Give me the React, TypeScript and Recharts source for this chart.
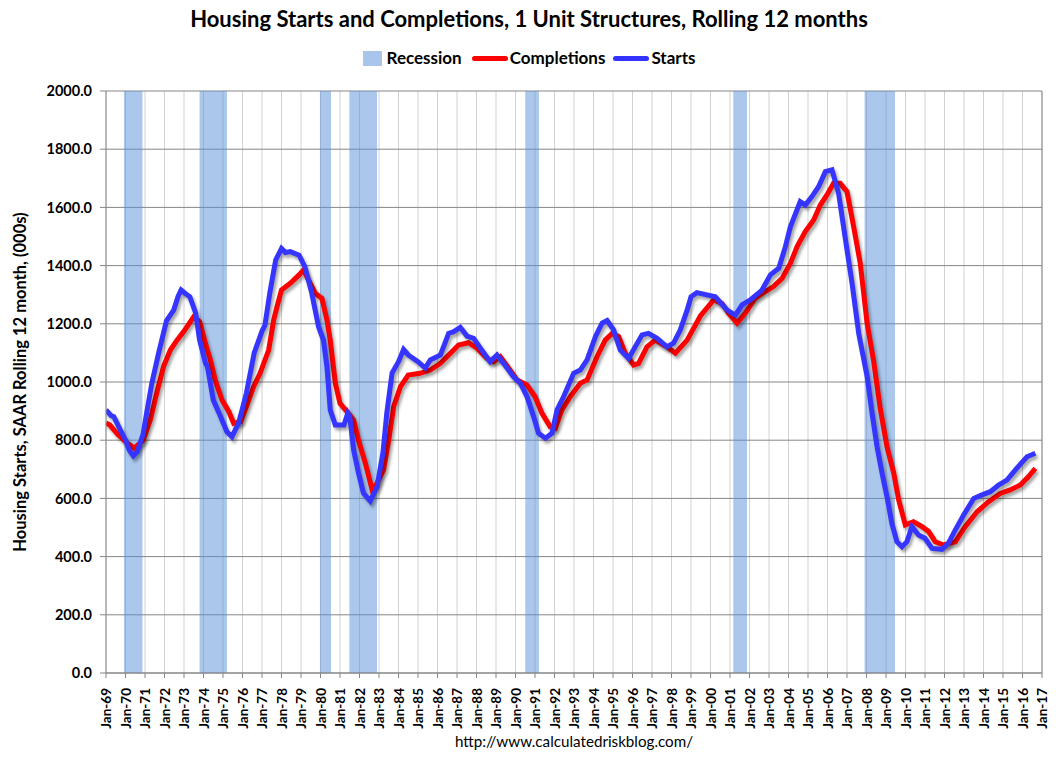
import React from "react";
import {
  CartesianGrid,
  ComposedChart,
  Line,
  ReferenceArea,
  ReferenceLine,
  XAxis,
  YAxis,
} from "recharts";

// decimal years
const startsDates = [
  1969.0, 1969.25, 1969.4, 1969.7, 1970.0, 1970.2, 1970.4, 1970.6, 1970.9, 1971.1,
  1971.35, 1971.7, 1972.1, 1972.47, 1972.7, 1972.85, 1973.05, 1973.3, 1973.6, 1973.8,
  1974.1, 1974.2, 1974.5, 1974.8, 1975.2, 1975.46, 1975.8, 1976.2, 1976.6, 1977.0,
  1977.15, 1977.4, 1977.7, 1978.0, 1978.2, 1978.45, 1978.9, 1979.2, 1979.55, 1979.9,
  1980.15, 1980.33, 1980.5, 1980.76, 1981.2, 1981.4, 1981.5, 1981.7, 1981.95, 1982.2,
  1982.55, 1982.9, 1983.2, 1983.4, 1983.67, 1984.0, 1984.26, 1984.5, 1985.0, 1985.37,
  1985.63, 1986.15, 1986.57, 1986.83, 1987.17, 1987.51, 1987.85, 1988.2, 1988.7, 1989.05,
  1989.39, 1989.9, 1990.25, 1990.59, 1990.93, 1991.18, 1991.53, 1991.87, 1992.13, 1992.47,
  1992.98, 1993.32, 1993.67, 1994.1, 1994.44, 1994.7, 1995.03, 1995.37, 1995.8, 1996.14,
  1996.49, 1996.82, 1997.26, 1997.77, 1998.1, 1998.45, 1998.8, 1999.0, 1999.3, 2000.25,
  2000.85, 2001.27, 2001.62, 2002.04, 2002.64, 2003.07, 2003.5, 2003.84, 2004.1, 2004.6,
  2004.86, 2005.2, 2005.54, 2005.89, 2006.23, 2006.57, 2006.9, 2007.26, 2007.6, 2008.03,
  2008.28, 2008.54, 2008.8, 2009.05, 2009.3, 2009.56, 2009.82, 2010.07, 2010.33, 2010.67,
  2011.0, 2011.36, 2011.87, 2012.2, 2012.55, 2012.98, 2013.5, 2013.92, 2014.35, 2014.77,
  2015.2, 2015.7, 2016.23, 2016.66,
];
const startsValues = [
  904, 885, 881, 840, 800, 765, 746, 760, 820, 900,
  996, 1100, 1210, 1247, 1295, 1316, 1305, 1293, 1237, 1144,
  1065, 1053, 938, 893, 829, 812, 859, 962, 1100, 1175,
  1195, 1306, 1419, 1459, 1445, 1448, 1436, 1396, 1306, 1190,
  1144, 1053, 904, 852, 852, 893, 881, 766, 687, 618,
  591, 640, 756, 893, 1031, 1070, 1112, 1093, 1070, 1048,
  1076, 1093, 1167, 1173, 1188, 1158, 1150, 1116, 1070, 1093,
  1064, 1018, 996, 950, 881, 824, 807, 824, 904, 950,
  1030, 1041, 1076, 1156, 1202, 1211, 1179, 1110, 1081, 1121,
  1162, 1167, 1150, 1121, 1133, 1179, 1247, 1293, 1307, 1293,
  1247, 1230, 1265, 1282, 1316, 1368, 1391, 1465, 1534, 1620,
  1608, 1637, 1671, 1723, 1729, 1648, 1499, 1339, 1167, 1020,
  895, 778, 686, 606, 514, 451, 434, 451, 503, 474,
  463, 428, 425, 446, 491, 543, 600, 612, 623, 646,
  663, 703, 743, 755,
];

const completionsDates = [
  1969.0, 1969.2, 1969.6, 1970.0, 1970.45, 1970.9, 1971.27, 1971.6, 1971.95, 1972.3,
  1972.64, 1972.98, 1973.5, 1973.8, 1974.1, 1974.35, 1974.6, 1974.95, 1975.3, 1975.55,
  1975.9, 1976.2, 1976.57, 1976.9, 1977.34, 1977.6, 1977.77, 1978.0, 1978.45, 1978.9,
  1979.13, 1979.47, 1979.73, 1980.07, 1980.33, 1980.5, 1980.76, 1981.0, 1981.36, 1981.7,
  1981.95, 1982.3, 1982.65, 1982.9, 1983.23, 1983.5, 1983.75, 1984.1, 1984.5, 1985.1,
  1985.63, 1986.15, 1986.66, 1987.08, 1987.59, 1988.03, 1988.54, 1988.88, 1989.22, 1989.65,
  1990.08, 1990.59, 1991.0, 1991.36, 1991.78, 1992.04, 1992.38, 1992.81, 1993.32, 1993.67,
  1994.18, 1994.6, 1994.95, 1995.29, 1995.63, 1996.06, 1996.31, 1996.74, 1997.17, 1997.77,
  1998.2, 1998.8, 1999.48, 2000.16, 2000.59, 2000.93, 2001.36, 2001.78, 2002.29, 2002.81,
  2003.23, 2003.67, 2004.1, 2004.44, 2004.86, 2005.29, 2005.63, 2005.97, 2006.31, 2006.65,
  2007.0, 2007.34, 2007.68, 2008.03, 2008.37, 2008.7, 2009.05, 2009.4, 2009.65, 2009.99,
  2010.41, 2010.85, 2011.19, 2011.53, 2011.95, 2012.55, 2013.06, 2013.67, 2014.26, 2014.86,
  2015.37, 2015.89, 2016.31, 2016.66,
];
const completionsValues = [
  859, 852, 820, 795, 773, 800, 869, 962, 1053, 1110,
  1144, 1173, 1224, 1207, 1133, 1076, 1007, 938, 898, 858,
  864, 915, 984, 1030, 1110, 1213, 1259, 1316, 1339, 1368,
  1385, 1339, 1305, 1288, 1213, 1144, 996, 927, 898, 869,
  800, 721, 629, 652, 698, 800, 915, 984, 1024, 1030,
  1041, 1064, 1099, 1127, 1135, 1116, 1081, 1070, 1087, 1047,
  1007, 990, 950, 892, 846, 841, 904, 950, 996, 1007,
  1087, 1144, 1167, 1156, 1099, 1058, 1064, 1121, 1144, 1121,
  1099, 1144, 1227, 1282, 1270, 1236, 1202, 1236, 1288, 1311,
  1328, 1356, 1408, 1465, 1517, 1557, 1608, 1643, 1683, 1683,
  1654, 1534, 1408, 1202, 1070, 910, 778, 686, 595, 509,
  520, 503, 486, 451, 440, 451, 503, 554, 589, 617,
  629, 646, 675, 703,
];

const recessionStarts = [1969.92, 1973.8, 1979.97, 1981.48, 1990.5, 2001.17, 2007.9];
const recessionEnds = [1970.87, 1975.2, 1980.54, 1982.9, 1991.2, 2001.87, 2009.46];

const yearTicks = Array.from({ length: 49 }, (_, i) => 1969 + i);
const valueTicks = [0, 200, 400, 600, 800, 1000, 1200, 1400, 1600, 1800, 2000];

const starts = startsDates.map((t, i) => ({ t, v: startsValues[i] }));
const completions = completionsDates.map((t, i) => ({ t, v: completionsValues[i] }));

const FONT = "Lato, 'Liberation Sans', sans-serif";
const AXIS_GRAY = "#868686";

function YearTick(props: any) {
  const { x, y, payload } = props;
  const yy = String(payload.value % 100).padStart(2, "0");
  return (
    <g transform={`translate(${x},${y})`}>
      <text
        x={-8}
        y={0}
        dy={5}
        textAnchor="end"
        transform="rotate(-90)"
        fontFamily={FONT}
        fontWeight="bold"
        fontSize={13.5}
        fill="#000"
      >
        {`Jan-${yy}`}
      </text>
    </g>
  );
}

function LegendRow() {
  const item = { display: "flex", alignItems: "center" } as const;
  return (
    <div
      style={{
        position: "absolute",
        top: 47,
        left: 0,
        width: 1056,
        display: "flex",
        justifyContent: "center",
        fontFamily: FONT,
        fontWeight: "bold",
        fontSize: 17,
        lineHeight: "22px",
        color: "#000",
        paddingLeft: 2,
        boxSizing: "border-box",
      }}
    >
      <div style={item}>
        <span style={{ width: 19, height: 15, background: "#a9c5eb", marginRight: 5 }} />
        <span>Recession</span>
      </div>
      <div style={{ ...item, marginLeft: 10 }}>
        <span style={{ width: 36, height: 5, borderRadius: 3, background: "#ff0000", marginRight: 2 }} />
        <span>Completions</span>
      </div>
      <div style={{ ...item, marginLeft: 8 }}>
        <span style={{ width: 36, height: 5, borderRadius: 3, background: "#3333ff", marginRight: 2 }} />
        <span>Starts</span>
      </div>
    </div>
  );
}

export default function App() {
  return (
    <div
      style={{
        position: "absolute",
        left: 0,
        top: 0,
        width: 1056,
        height: 765,
        background: "#fff",
        fontFamily: FONT,
      }}
    >
      <style>{`.recharts-line-curve { filter: drop-shadow(2px 3px 1.5px rgba(0,0,0,0.35)); }`}</style>
      <div
        style={{
          position: "absolute",
          top: 5,
          left: 0,
          width: 1056,
          textAlign: "center",
          fontWeight: "bold",
          fontSize: 22,
          lineHeight: "28px",
          color: "#000",
          paddingLeft: 2,
          boxSizing: "border-box",
        }}
      >
        Housing Starts and Completions, 1 Unit Structures, Rolling 12 months
      </div>
      <LegendRow />
      <div
        style={{
          position: "absolute",
          left: 20,
          top: 382,
          transform: "translate(-50%, -50%) rotate(-90deg)",
          whiteSpace: "nowrap",
          fontWeight: "bold",
          fontSize: 16.5,
          color: "#000",
        }}
      >
        Housing Starts, SAAR Rolling 12 month, (000s)
      </div>
      <div
        style={{
          position: "absolute",
          top: 731,
          left: 0,
          width: 1056,
          textAlign: "center",
          fontSize: 15.2,
          lineHeight: "20px",
          color: "#000",
          paddingLeft: 92,
          boxSizing: "border-box",
        }}
      >
        http://www.calculatedriskblog.com/
      </div>
      <ComposedChart
        width={1056}
        height={765}
        margin={{ top: 91, right: 14, bottom: 0, left: 0 }}
        style={{ position: "absolute", left: 0, top: 0 }}
      >
        <CartesianGrid horizontal={false} stroke="#d2d2d2" />
        <CartesianGrid vertical={false} stroke={AXIS_GRAY} />
        <XAxis
          dataKey="t"
          type="number"
          domain={[1969, 2017]}
          ticks={yearTicks}
          interval={0}
          allowDataOverflow
          tick={<YearTick />}
          tickSize={5}
          stroke={AXIS_GRAY}
          height={92}
        />
        <YAxis
          type="number"
          domain={[0, 2000]}
          ticks={valueTicks}
          interval={0}
          width={106}
          tickSize={6}
          stroke={AXIS_GRAY}
          tickFormatter={(v: number) => v.toFixed(1)}
          tick={{ fill: "#000", fontSize: 14.5, fontWeight: "bold", fontFamily: FONT, dx: -6 }}
        />
        {recessionStarts.map((s, i) => (
          <ReferenceArea
            key={s}
            x1={s}
            x2={recessionEnds[i]}
            y1={0}
            y2={2000}
            fill="#5a8fd9"
            fillOpacity={0.5}
            stroke="none"
          />
        ))}
        <ReferenceLine x={2017} stroke={AXIS_GRAY} />
        <Line
          data={completions}
          dataKey="v"
          name="Completions"
          type="linear"
          stroke="#ff0000"
          strokeWidth={5}
          dot={false}
          isAnimationActive={false}
        />
        <Line
          data={starts}
          dataKey="v"
          name="Starts"
          type="linear"
          stroke="#3535ff"
          strokeWidth={5}
          dot={false}
          isAnimationActive={false}
        />
      </ComposedChart>
    </div>
  );
}
